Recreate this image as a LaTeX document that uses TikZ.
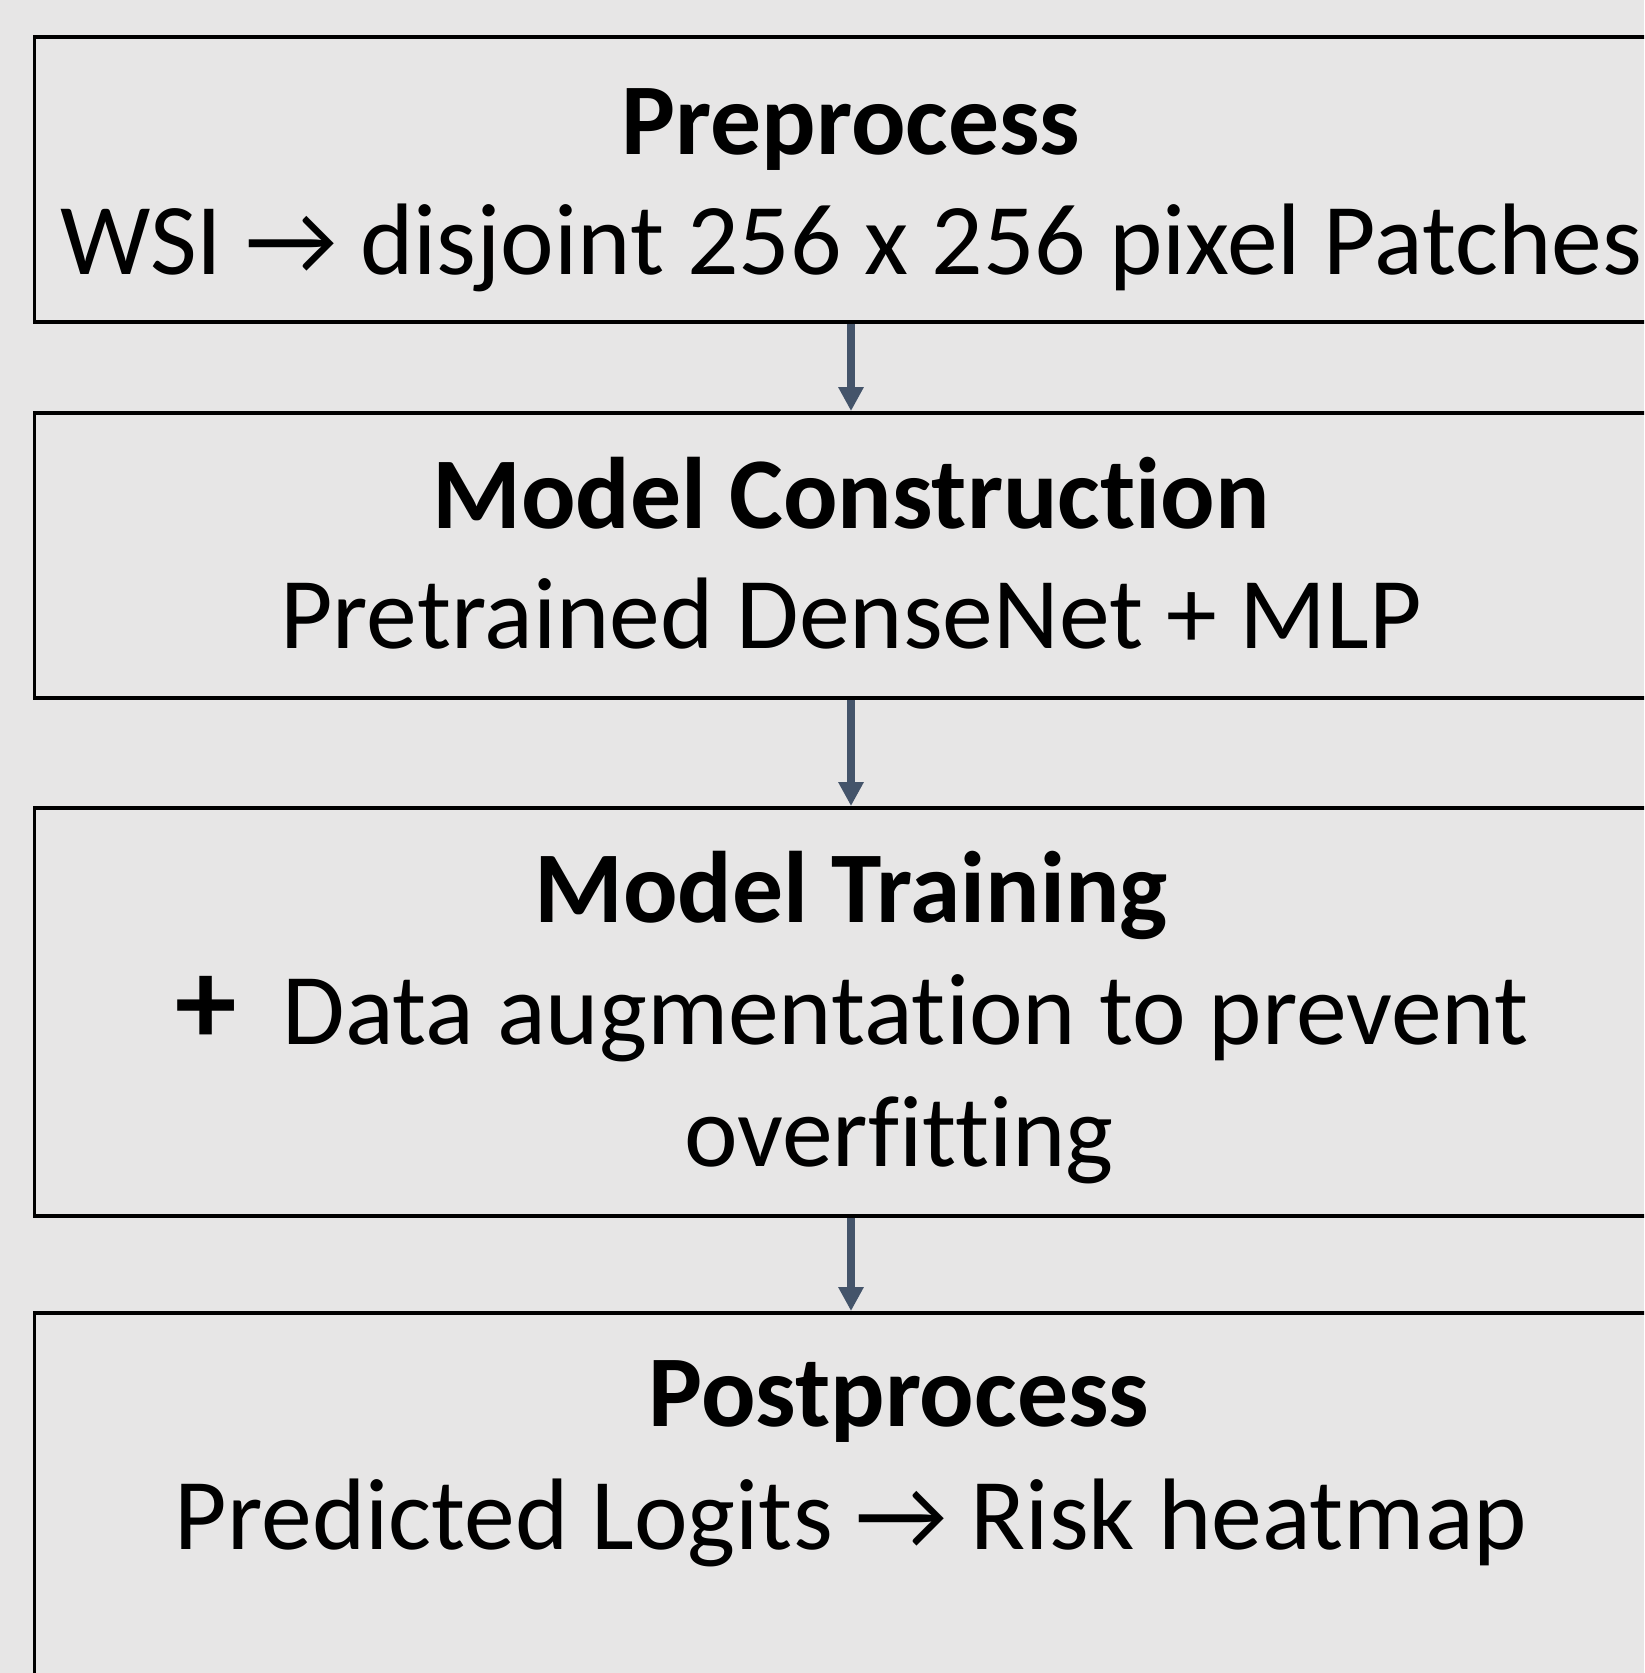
\documentclass[tikz,border=0pt]{standalone}
\usepackage{fontspec}
\setmainfont{Carlito}[Ligatures={NoCommon}]
\usetikzlibrary{arrows.meta}
\definecolor{bgcol}{HTML}{E7E6E6}
\definecolor{arrcol}{HTML}{44546A}
\begin{document}
\begin{tikzpicture}[x=0.01cm,y=-0.01cm,
  stagebox/.style={draw=black,line width=1.05pt,rectangle,minimum width=16.32cm,inner sep=0pt},
  txt/.style={anchor=base,inner sep=0pt,font=\fontsize{28.9pt}{34pt}\selectfont},
  head/.style={txt,font=\fontsize{28.9pt}{34pt}\selectfont\bfseries},
  flow/.style={draw=arrcol,line width=2.2pt,-{Triangle[width=0.24cm,length=0.24cm]}}]
\useasboundingbox (0,0) rectangle (1644,1673);
\fill[bgcol] (0,0) rectangle (1644,1673);
\clip (0,0) rectangle (1644,1673);
% boxes
\node[stagebox,minimum height=2.85cm] (b1) at (851,179.5) {};
\node[stagebox,minimum height=2.85cm] (b2) at (851,555.5) {};
\node[stagebox,minimum height=4.08cm] (b3) at (851,1012) {};
\node[stagebox,minimum height=4.47cm] (b4) at (851,1536.5) {};
% texts
\node[head] (t1a) at (851,154.7) {Preprocess};
\node[txt]  (t1b) at (851,275) {WSI → disjoint 256 x 256 pixel Patches};
\node[head] (t2a) at (851,528) {Model Construction};
\node[txt]  (t2b) at (851,648.6) {Pretrained DenseNet + MLP};
\node[head] (t3a) at (851,922) {Model Training};
\node[txt]  (t3b) at (852,1044) {{\fontsize{35pt}{35pt}\selectfont\bfseries +}\hspace{0.45em}Data augmentation to prevent};
\node[txt]  (t3c) at (899,1166) {overfitting};
\node[head] (t4a) at (899,1426) {Postprocess};
\node[txt]  (t4b) at (851,1549) {Predicted Logits → Risk heatmap};
% arrows
\draw[flow] (b1.south) -- (b2.north);
\draw[flow] (b2.south) -- (b3.north);
\draw[flow] (b3.south) -- (b4.north);
\end{tikzpicture}
\end{document}
